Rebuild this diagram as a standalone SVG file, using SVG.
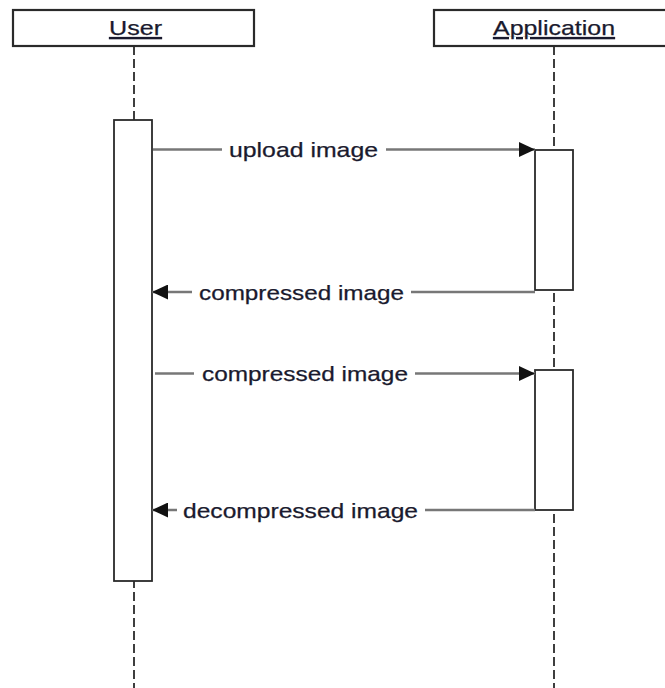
<svg xmlns="http://www.w3.org/2000/svg" width="665" height="688" viewBox="0 0 665 688">
  <defs>
    <marker id="head" viewBox="0 0 16 15" refX="16" refY="7.5" markerWidth="16" markerHeight="15" markerUnits="userSpaceOnUse" orient="auto">
      <path d="M0,0 L16,7.5 L0,15 Z" fill="#111"/>
    </marker>
    <style>
      .head-box { fill: #fff; stroke: #2a2a2a; stroke-width: 2.2; }
      .lifeline { stroke: #2a2a2a; stroke-width: 1.8; stroke-dasharray: 9 4; fill: none; }
      .act { fill: #fff; stroke: #2a2a2a; stroke-width: 1.8; }
      .msg { stroke: #777; stroke-width: 2.6; fill: none; }
      .lbl-bg { fill: #fff; }
      text { font-family: "Liberation Sans", Arial, sans-serif; font-size: 21px; fill: #1a1a2e; stroke: #1a1a2e; stroke-width: 0.25; }
      .title { text-decoration: underline; }
    </style>
  </defs>
  <rect width="665" height="688" fill="#fff"/>

  <!-- lifelines -->
  <g id="lifelines">
    <line class="lifeline" x1="134" y1="46" x2="134" y2="688"/>
    <line class="lifeline" x1="554" y1="46" x2="554" y2="688"/>
  </g>

  <!-- participant: User -->
  <g id="user">
    <rect class="head-box" x="13" y="10" width="241" height="36"/>
    <text class="title" x="109" y="35" textLength="53" lengthAdjust="spacingAndGlyphs">User</text>
    <rect class="act" x="114" y="120" width="38" height="461"/>
  </g>

  <!-- participant: Application -->
  <g id="application">
    <rect class="head-box" x="434" y="10" width="241" height="36"/>
    <text class="title" x="493" y="35" textLength="122" lengthAdjust="spacingAndGlyphs">Application</text>
    <rect class="act" x="535" y="150" width="38" height="140"/>
    <rect class="act" x="535" y="370" width="38" height="140"/>
  </g>

  <!-- messages -->
  <g id="connectors">
    <g id="msg-upload">
      <line class="msg" x1="153" y1="149.5" x2="535" y2="149.5" marker-end="url(#head)"/>
      <rect class="lbl-bg" x="222" y="138" width="164" height="24"/>
      <text x="229" y="156.5" textLength="149" lengthAdjust="spacingAndGlyphs">upload image</text>
    </g>
    <g id="msg-compressed-back">
      <line class="msg" x1="535" y1="292" x2="152" y2="292" marker-end="url(#head)"/>
      <rect class="lbl-bg" x="192" y="280" width="219" height="24"/>
      <text x="199" y="299.5" textLength="205" lengthAdjust="spacingAndGlyphs">compressed image</text>
    </g>
    <g id="msg-compressed">
      <line class="msg" x1="155" y1="373.5" x2="535" y2="373.5" marker-end="url(#head)"/>
      <rect class="lbl-bg" x="194" y="362" width="221" height="24"/>
      <text x="202" y="381" textLength="206" lengthAdjust="spacingAndGlyphs">compressed image</text>
    </g>
    <g id="msg-decompressed">
      <line class="msg" x1="535" y1="510" x2="152" y2="510" marker-end="url(#head)"/>
      <rect class="lbl-bg" x="177" y="498" width="248" height="24"/>
      <text x="183" y="517.5" textLength="235" lengthAdjust="spacingAndGlyphs">decompressed image</text>
    </g>
  </g>
</svg>
